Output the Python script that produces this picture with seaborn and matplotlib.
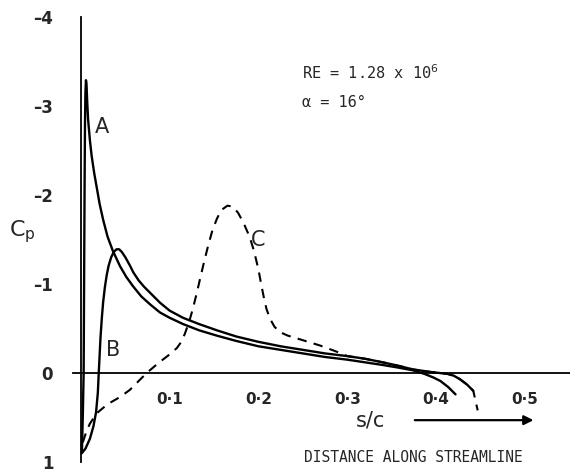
import matplotlib
matplotlib.use("Agg")
import matplotlib.pyplot as plt
import seaborn as sns
import numpy as np
import pandas as pd

# ---- data ----
a_x = [0.001, 0.002, 0.003, 0.0035, 0.004, 0.0045, 0.005, 0.0056, 0.0062, 0.007,
       0.008, 0.010, 0.012, 0.015, 0.018, 0.021, 0.025, 0.030, 0.036, 0.044,
       0.051, 0.059, 0.068, 0.078, 0.089, 0.100, 0.115, 0.133, 0.153, 0.175,
       0.200, 0.225, 0.250, 0.275, 0.300, 0.320, 0.340, 0.358, 0.374, 0.387,
       0.397, 0.405, 0.414, 0.422]
a_cp = [0.90, 0.50, 0.00, -1.00, -2.00, -2.80, -3.15, -3.29, -3.25, -3.05,
        -2.85, -2.62, -2.44, -2.24, -2.07, -1.90, -1.72, -1.53, -1.37, -1.20,
        -1.08, -0.97, -0.86, -0.77, -0.68, -0.62, -0.55, -0.48, -0.42, -0.36,
        -0.30, -0.26, -0.22, -0.18, -0.15, -0.12, -0.09, -0.06, -0.03, 0.01,
        0.05, 0.09, 0.16, 0.24]

b_x = [0.001, 0.005, 0.010, 0.014, 0.017, 0.019, 0.020, 0.021, 0.022, 0.0235,
       0.025, 0.027, 0.029, 0.031, 0.034, 0.037, 0.040, 0.043, 0.046, 0.050,
       0.055, 0.059, 0.065, 0.071, 0.078, 0.089, 0.100, 0.115, 0.133, 0.153,
       0.175, 0.200, 0.225, 0.250, 0.275, 0.300, 0.320, 0.340, 0.358, 0.374,
       0.395, 0.413, 0.420, 0.427, 0.435, 0.442]
b_cp = [0.90, 0.85, 0.74, 0.60, 0.44, 0.22, 0.00, -0.20, -0.40, -0.62,
        -0.80, -0.97, -1.10, -1.20, -1.30, -1.36, -1.39, -1.39, -1.36, -1.30,
        -1.21, -1.13, -1.04, -0.97, -0.90, -0.79, -0.70, -0.62, -0.55, -0.48,
        -0.41, -0.35, -0.30, -0.26, -0.22, -0.19, -0.16, -0.12, -0.08, -0.04,
        -0.01, 0.01, 0.03, 0.07, 0.13, 0.20]

c_x = [0.002, 0.006, 0.010, 0.018, 0.030, 0.044, 0.055, 0.063, 0.074, 0.087,
       0.100, 0.108, 0.113, 0.117, 0.122, 0.126, 0.130, 0.134, 0.138, 0.143,
       0.148, 0.153, 0.158, 0.165, 0.171, 0.177, 0.183, 0.190, 0.195, 0.200,
       0.203, 0.206, 0.209, 0.213, 0.218, 0.224, 0.233, 0.243, 0.256, 0.269,
       0.288, 0.300, 0.320, 0.340, 0.358, 0.374, 0.395, 0.413, 0.420, 0.427,
       0.435, 0.442, 0.447]
c_cp = [0.78, 0.66, 0.57, 0.45, 0.35, 0.27, 0.19, 0.11, 0.00, -0.11,
        -0.21, -0.28, -0.35, -0.44, -0.58, -0.72, -0.88, -1.05, -1.22, -1.42,
        -1.60, -1.73, -1.83, -1.88, -1.87, -1.80, -1.69, -1.53, -1.37, -1.16,
        -1.00, -0.85, -0.72, -0.61, -0.52, -0.46, -0.42, -0.39, -0.35, -0.31,
        -0.24, -0.19, -0.16, -0.12, -0.08, -0.04, -0.01, 0.01, 0.03, 0.07,
        0.13, 0.20, 0.42]

x_ticks = [0.1, 0.2, 0.3, 0.4, 0.5]
x_tick_labels = ["0·1", "0·2", "0·3", "0·4", "0·5"]
y_ticks = [-4, -3, -2, -1, 0, 1]
y_tick_labels = ["–4", "–3", "–2", "–1", "0", "1"]

# ---- figure ----
sns.set_style("white")
plt.rcParams['font.family'] = ['DejaVu Sans']

fig = plt.figure(figsize=(5.7, 4.7), dpi=100)
ax = fig.add_axes([73 / 570, 1 - 462 / 470, 497 / 570, (462 - 17) / 470])

lw = 1.7
sns.lineplot(x=a_x, y=a_cp, sort=False, estimator=None, color="black", lw=lw, ax=ax)
sns.lineplot(x=b_x, y=b_cp, sort=False, estimator=None, color="black", lw=lw, ax=ax)
sns.lineplot(x=c_x, y=c_cp, sort=False, estimator=None, color="black", lw=1.5,
             linestyle=(0, (4.5, 3.5)), ax=ax)

ax.set_xlim(-0.009, 0.551)
ax.set_ylim(1.0, -4.0)

for s in ["top", "right"]:
    ax.spines[s].set_visible(False)
ax.spines["left"].set_position(("data", 0))
ax.spines["bottom"].set_position(("data", 0))
for s in ["left", "bottom"]:
    ax.spines[s].set_linewidth(1.3)
    ax.spines[s].set_color("black")

ax.set_xticks(x_ticks)
ax.set_xticklabels(x_tick_labels, fontsize=11, fontweight="bold")
ax.set_yticks(y_ticks)
ax.set_yticklabels(y_tick_labels, fontsize=12, fontweight="bold")
ax.tick_params(axis="x", direction="inout", length=7, width=1.2, pad=10)
ax.tick_params(axis="y", direction="in", length=6, width=1.2, pad=20)
ax.set_xlabel("")
ax.set_ylabel("")

# curve labels
ax.text(0.0237, -2.76, "A", fontsize=15, ha="center", va="center")
ax.text(0.036, -0.26, "B", fontsize=15, ha="center", va="center")
ax.text(0.200, -1.49, "C", fontsize=15, ha="center", va="center")

# axis label Cp
fig.text(22 / 570, 1 - 232 / 470, r"C$_{\rm p}$", fontsize=16, ha="center", va="center")

# annotations
mono = ["DejaVu Sans Mono"]
ax.text(0.2485, -3.38, "RE = 1.28 x 10$^{6}$", fontsize=11, family=mono,
        ha="left", va="center")
ax.text(0.2485, -3.04, "α = 16°", fontsize=11, family=mono, ha="left", va="center")

# s/c with arrow
ax.text(0.326, 0.53, "s/c", fontsize=15, ha="center", va="center")
ax.annotate("", xy=(0.513, 0.53), xytext=(0.373, 0.53),
            arrowprops=dict(arrowstyle="-|>", color="black", lw=1.6,
                            mutation_scale=14))

ax.text(0.375, 0.95, "DISTANCE ALONG STREAMLINE", fontsize=10.5, family=mono,
        ha="center", va="center")

fig.savefig("out.png", dpi=100)
